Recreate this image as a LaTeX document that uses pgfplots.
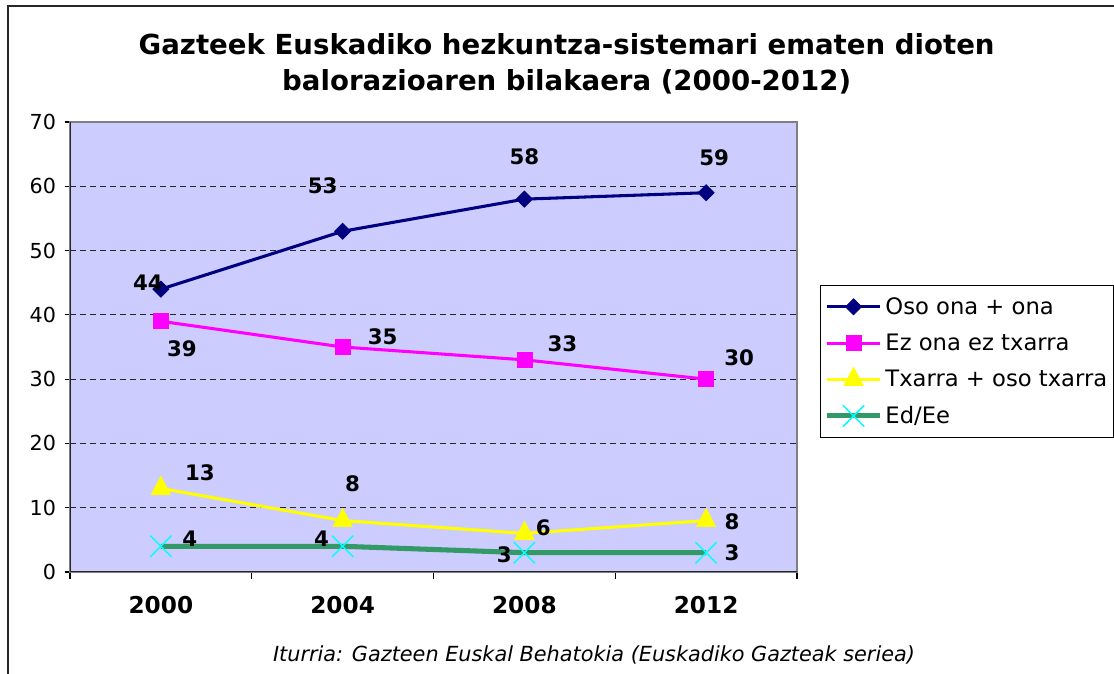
\documentclass[border=0pt]{standalone}
\usepackage{pgfplots}
\pgfplotsset{compat=1.18}
\usepackage{pgfplotstable}
\usepackage{fontspec}
\setmainfont{DejaVu Sans}
\definecolor{plotbg}{HTML}{CCCCFF}
\definecolor{navyc}{HTML}{000080}
\definecolor{magc}{HTML}{FF00FF}
\definecolor{yelc}{HTML}{FFFF00}
\definecolor{grnc}{HTML}{339966}
\definecolor{cyac}{HTML}{00FFFF}

\pgfplotstableread{
x y lx ly
0 44 -9.75 4.5
1 53 -15 34.5
2 58 0 31.5
3 59 6 26.25
}\tabOso
\pgfplotstableread{
x y lx ly
0 39 15.75 -20.25
1 35 30 7.5
2 33 28.5 12
3 30 24.75 15.75
}\tabEz
\pgfplotstableread{
x y lx ly
0 13 29.25 12
1 8 7.5 27.75
2 6 14.25 4.5
3 8 19.5 -0.75
}\tabTx
\pgfplotstableread{
x y lx ly
0 4 21.75 6
1 4 -15.75 6
2 3 -15 -1.5
3 3 19.5 0
}\tabEd

\begin{document}
\begin{tikzpicture}
\path[use as bounding box] (0,0) rectangle (835.5pt,505.5pt);
\draw[line width=0.8pt, black!85] (6pt,-2pt) -- (6pt,501pt) -- (840pt,501pt);
\node[font=\bfseries\fontsize{20.7}{26.5}\selectfont, align=center] at (425pt,457.5pt)
  {Gazteek Euskadiko hezkuntza-sistemari ematen dioten\\balorazioaren bilakaera (2000-2012)};
\node[font=\itshape\fontsize{15.6}{18}\selectfont] at (445.5pt,14.25pt)
  {Iturria: Gazteen Euskal Behatokia (Euskadiko Gazteak seriea)};
\begin{axis}[
  at={(52.5pt,76.5pt)}, anchor=south west,
  width=545.25pt, height=337.5pt, scale only axis,
  xmin=-0.5, xmax=3.5, ymin=0, ymax=70,
  ytick={0,10,...,70},
  xtick={0,1,2,3}, xticklabels={2000,2004,2008,2012},
  minor xtick={-0.5,0.5,1.5,2.5,3.5},
  major x tick style={draw=none},
  tick pos=left, tick align=outside,
  major tick length=4pt, minor tick length=5pt,
  tick style={black, line width=0.8pt},
  /pgf/number format/assume math mode=true,
  ymajorgrids,
  grid style={black!85, line width=0.6pt, dash pattern=on 4.5pt off 3pt},
  axis background/.style={fill=plotbg},
  axis line style={gray, line width=0.8pt},
  yticklabel style={font=\fontsize{15.5}{18}\selectfont, xshift=-3pt},
  xticklabel style={font=\bfseries\fontsize{17.4}{20}\selectfont, yshift=-10.5pt},
  nodes near coords,
  visualization depends on={\thisrow{lx} \as \lx},
  visualization depends on={\thisrow{ly} \as \ly},
  nodes near coords style={font=\bfseries\fontsize{16}{19}\selectfont, black, anchor=center, xshift=\lx pt, yshift=\ly pt},
  legend style={at={(1.0316,0.6378)}, anchor=north west, draw=black, line width=0.6pt, fill=white,
    font=\fontsize{17}{20}\selectfont, row sep=9.2pt, inner xsep=3pt, inner ysep=7pt},
  legend cell align=left,
  legend image code/.code={\draw[mark repeat=2,mark phase=2] plot coordinates {(0pt,0pt) (20pt,0pt) (40pt,0pt)};},
]
\addplot[navyc, line width=2.3pt, mark=square*, mark size=4.3pt, mark options={rotate=45, line width=0.5pt, fill=navyc}] table[x=x,y=y] {\tabOso};
\addlegendentry{Oso ona + ona}
\addplot[magc, line width=2.3pt, mark=square*, mark size=5.6pt, mark options={line width=0.5pt, fill=magc}] table[x=x,y=y] {\tabEz};
\addlegendentry{Ez ona ez txarra}
\addplot[yelc, line width=2.3pt, mark=triangle*, mark size=8.3pt, mark options={line width=0.5pt, fill=yelc, yscale=1.1}] table[x=x,y=y] {\tabTx};
\addlegendentry{Txarra + oso txarra}
\addplot[grnc, line width=3.8pt, mark=x, mark size=11.3pt, mark options={cyac, line width=1.1pt}] table[x=x,y=y] {\tabEd};
\addlegendentry{Ed/Ee}
\draw[black!85, line width=1pt] (rel axis cs:0,1) -- (rel axis cs:0,0) -- (rel axis cs:1,0);
\end{axis}
\end{tikzpicture}
\end{document}
